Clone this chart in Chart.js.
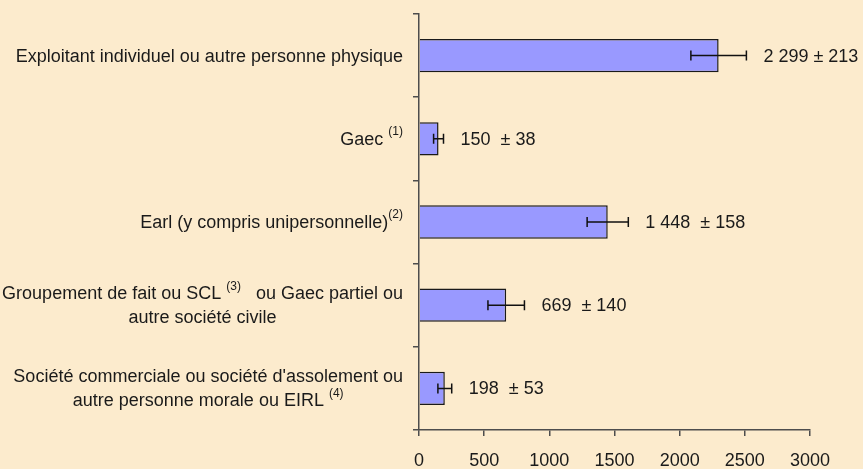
<!DOCTYPE html>
<html>
<head>
<meta charset="utf-8">
<script src="https://cdn.jsdelivr.net/npm/chart.js@4"></script>
<style>
  body { margin: 0; background: #fcebcd; }
  canvas { display: block; }
</style>
</head>
<body>
<canvas id="chart" width="863" height="469"></canvas>
<script>
// ---- data ----
const categories = [
  "Exploitant individuel ou autre personne physique",
  "Gaec",
  "Earl (y compris unipersonnelle)",
  "Groupement de fait ou SCL ou Gaec partiel ou autre société civile",
  "Société commerciale ou société d'assolement ou autre personne morale ou EIRL"
];
// lines of [normal, superscript, normal, ...] segments
const categoryLines = [
  [["Exploitant individuel ou autre personne physique"]],
  [["Gaec ", "(1)"]],
  [["Earl (y compris unipersonnelle)", "(2)"]],
  [["Groupement de fait ou SCL ", "(3)", "   ou Gaec partiel ou"], ["autre société civile"]],
  [["Société commerciale ou société d'assolement ou"], ["autre personne morale ou EIRL ", "(4)"]]
];
const values = [2299, 150, 1448, 669, 198];
const errors = [213, 38, 158, 140, 53];
const valueLabels = ["2 299 ± 213", "150  ± 38", "1 448  ± 158", "669  ± 140", "198  ± 53"];
const xTicks = [0, 500, 1000, 1500, 2000, 2500, 3000];

const FONT = '"Liberation Sans", Arial, sans-serif';
const TEXT = "#1a1a1a";
const AXIS = "#4d4d4d";

// error bars + value labels
const errorBars = {
  id: "errorBars",
  afterDatasetsDraw(chart) {
    const { ctx, scales: { x, y } } = chart;
    ctx.save();
    ctx.strokeStyle = "#111";
    ctx.lineWidth = 1.5;
    ctx.font = "18px " + FONT;
    ctx.fillStyle = TEXT;
    ctx.textBaseline = "middle";
    values.forEach((v, i) => {
      const cy = y.getPixelForValue(i);
      const x0 = x.getPixelForValue(v - errors[i]);
      const x1 = x.getPixelForValue(v + errors[i]);
      ctx.beginPath();
      ctx.moveTo(x0, cy); ctx.lineTo(x1, cy);
      ctx.moveTo(x0, cy - 5); ctx.lineTo(x0, cy + 5);
      ctx.moveTo(x1, cy - 5); ctx.lineTo(x1, cy + 5);
      ctx.stroke();
      ctx.fillText(valueLabels[i], x1 + 17, cy + 1);
    });
    ctx.restore();
  }
};

// category labels with superscripts
const categoryLabels = {
  id: "categoryLabels",
  afterDraw(chart) {
    const { ctx, scales: { y } } = chart;
    const right = y.right - 16;
    const main = "18px " + FONT, sup = "12px " + FONT;
    ctx.save();
    ctx.fillStyle = TEXT;
    ctx.textBaseline = "middle";
    ctx.textAlign = "left";
    const segW = (s, k) => { ctx.font = k % 2 ? sup : main; return ctx.measureText(s).width; };
    categoryLines.forEach((lines, i) => {
      const cy = y.getPixelForValue(i);
      const widths = lines.map(l => l.reduce((a, s, k) => a + segW(s, k), 0));
      const blockW = Math.max(...widths);
      const mid = right - blockW / 2;
      lines.forEach((l, j) => {
        const ly = cy + (j - (lines.length - 1) / 2) * 24 + 1;
        let px = mid - widths[j] / 2;
        l.forEach((s, k) => {
          ctx.font = k % 2 ? sup : main;
          ctx.fillText(s, px, k % 2 ? ly - 8 : ly);
          px += ctx.measureText(s).width;
        });
      });
    });
    ctx.restore();
  }
};

new Chart(document.getElementById("chart"), {
  type: "bar",
  data: {
    labels: categories,
    datasets: [{
      data: values,
      backgroundColor: "#9999ff",
      borderColor: "#1a1a1a",
      borderWidth: 1.5,
      barPercentage: 0.4,
      categoryPercentage: 1
    }]
  },
  options: {
    indexAxis: "y",
    responsive: false,
    animation: false,
    layout: { padding: { top: 14, right: 53, left: 0, bottom: 0 } },
    plugins: { legend: { display: false }, tooltip: { enabled: false } },
    scales: {
      y: {
        ticks: { display: false },
        grid: { drawOnChartArea: false, tickLength: 6, color: AXIS, lineWidth: 1.5 },
        border: { color: AXIS, width: 1.5 },
        afterFit: s => { s.width = 419; }
      },
      x: {
        min: 0,
        max: 3000,
        afterBuildTicks: s => { s.ticks = xTicks.map(v => ({ value: v })); },
        ticks: { font: { size: 18, family: FONT }, color: TEXT, padding: 14, callback: v => String(v) },
        grid: { drawOnChartArea: false, tickLength: 6, color: AXIS, lineWidth: 1.5 },
        border: { color: AXIS, width: 1.5 },
        afterFit: s => { s.height = 39; }
      }
    }
  },
  plugins: [errorBars, categoryLabels]
});
</script>
</body>
</html>
